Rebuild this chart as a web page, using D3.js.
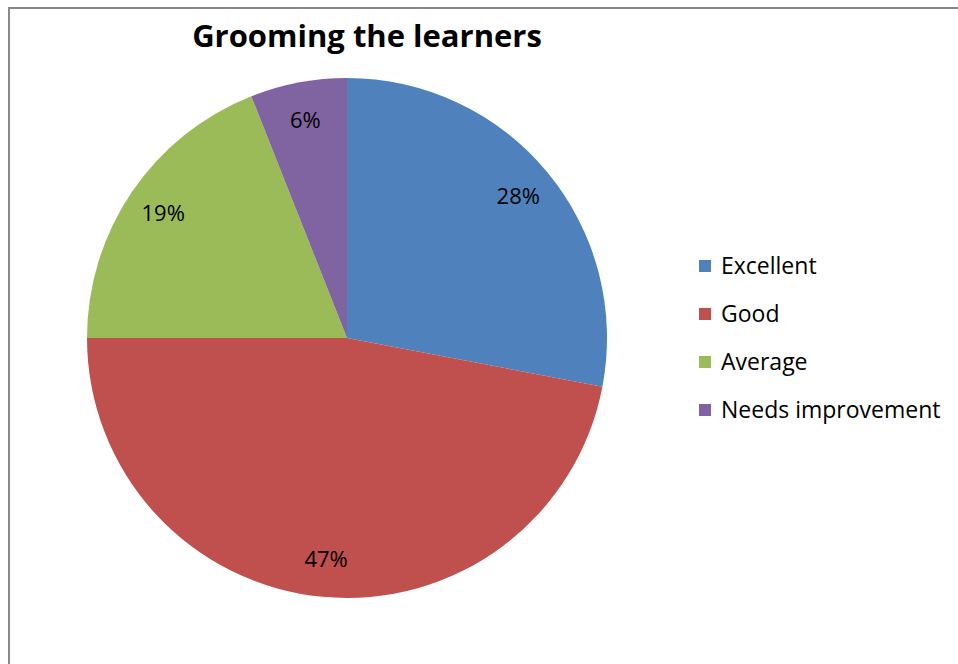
<!DOCTYPE html>
<html>
<head>
<meta charset="utf-8">
<script src="https://cdn.jsdelivr.net/npm/d3@7"></script>
<style>
  html, body { margin: 0; padding: 0; background: #fff; }
  svg { display: block; }
</style>
</head>
<body>
<svg id="chart" width="958" height="664"></svg>
<script>
// Rating categories and their shares (percent)
const categories = ["Excellent", "Good", "Average", "Needs improvement"];
const values = [28, 47, 19, 6];
const colors = ["#4F81BD", "#C0504D", "#9BBB59", "#8064A2"];
const title = "Grooming the learners";

const svg = d3.select("#chart");
const font = "'Open Sans', 'Liberation Sans', sans-serif";

// Chart frame (left and top edges)
svg.append("path")
  .attr("d", "M9,664 V8 H958")
  .attr("fill", "none")
  .attr("stroke", "#888")
  .attr("stroke-width", 2);

// Title
svg.append("text")
  .attr("x", 367)
  .attr("y", 47)
  .attr("text-anchor", "middle")
  .attr("font-family", font)
  .attr("font-weight", "bold")
  .attr("font-size", 31)
  .attr("fill", "#000")
  .text(title);

// Pie
const cx = 347, cy = 338, r = 260;
const pie = d3.pie().sort(null).value(d => d);
const arcs = pie(values);
const arc = d3.arc().innerRadius(0).outerRadius(r);
const labelArc = d3.arc().innerRadius(r * 0.855).outerRadius(r * 0.855);

const g = svg.append("g").attr("transform", `translate(${cx},${cy})`);
g.selectAll("path.slice")
  .data(arcs)
  .join("path")
  .attr("class", "slice")
  .attr("d", arc)
  .attr("fill", (d, i) => colors[i]);

g.selectAll("text.lbl")
  .data(arcs)
  .join("text")
  .attr("class", "lbl")
  .attr("transform", d => `translate(${labelArc.centroid(d)})`)
  .attr("text-anchor", "middle")
  .attr("dy", "0.36em")
  .attr("font-family", font)
  .attr("font-size", 22)
  .attr("fill", "#000")
  .text(d => d.data + "%");

// Legend
const legend = svg.append("g").attr("transform", "translate(699,266)");
const rows = legend.selectAll("g")
  .data(categories)
  .join("g")
  .attr("transform", (d, i) => `translate(0,${i * 48})`);
rows.append("rect")
  .attr("x", 0).attr("y", -6)
  .attr("width", 12).attr("height", 12)
  .attr("fill", (d, i) => colors[i]);
rows.append("text")
  .attr("x", 22)
  .attr("y", 0)
  .attr("dy", "0.36em")
  .attr("font-family", font)
  .attr("font-size", 23)
  .attr("fill", "#000")
  .text(d => d);
</script>
</body>
</html>
